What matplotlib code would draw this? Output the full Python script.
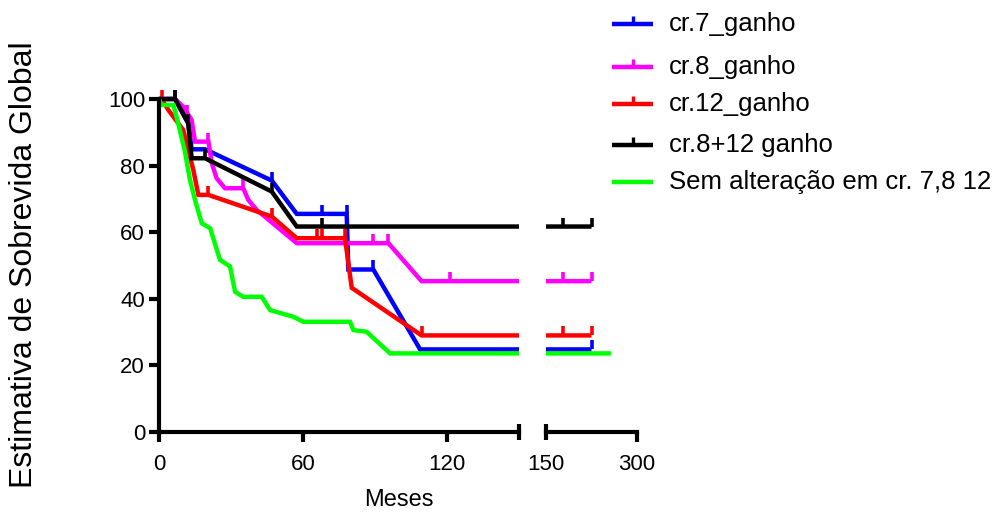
import numpy as np
import matplotlib
matplotlib.use("Agg")
import matplotlib.pyplot as plt
from matplotlib.lines import Line2D
from matplotlib.patches import Rectangle

plt.rcParams['font.family'] = ['Liberation Sans', 'DejaVu Sans']

# Kaplan-Meier estimates (months, % survival) per group
labels = ["cr.7_ganho", "cr.8_ganho", "cr.12_ganho", "cr.8+12 ganho",
          "Sem alteração em cr. 7,8 12"]
colors = ["#0000FF", "#FF00FF", "#FF0000", "#000000", "#00FF00"]

blue_t = [0, 6.7, 12.2, 13.6, 19.2, 47, 57.4, 78.2, 78.9, 89.3, 108.8, 225]
blue_s = [100, 100, 92.7, 84.9, 84.9, 75.5, 65.5, 65.5, 48.8, 48.8, 24.8, 24.8]
blue_ct = [6.7, 47, 67.8, 78.2, 89.3, 225]
blue_cs = [100, 75.5, 65.5, 65.5, 48.8, 24.8]

magenta_t = [0, 6.7, 10, 13.6, 15, 20.6, 22, 24, 27.5, 35.1, 37.2, 40.7,
             57.4, 95.6, 109.4, 225]
magenta_s = [100, 100, 97.7, 93.7, 87.2, 87.2, 80.7, 76.2, 73.2, 73.2, 69.7,
             66.7, 56.7, 56.7, 45.3, 45.3]
magenta_ct = [11.5, 20.6, 35.1, 89.3, 95.6, 121.3, 178.5, 225]
magenta_cs = [95.5, 87.2, 73.2, 56.7, 56.7, 45.3, 45.3, 45.3]

red_t = [0, 1.1, 3.9, 10.1, 14.3, 16.4, 20.6, 47, 57.4, 77.5, 80.3, 109.4, 225]
red_s = [100, 100, 96.7, 90.7, 78.7, 71.2, 71.2, 64.7, 58.2, 58.2, 43.3,
         29.0, 29.0]
red_ct = [1.1, 20.6, 47, 65.7, 67.8, 77.5, 109.4, 178.5, 225]
red_cs = [100, 71.2, 64.7, 58.2, 58.2, 58.2, 29.0, 29.0, 29.0]

black_t = [0, 6.7, 12.2, 13.6, 19.2, 47, 57.4, 225]
black_s = [100, 100, 92.7, 82.2, 82.2, 72.2, 61.7, 61.7]
black_ct = [6.7, 12.2, 19.2, 47, 67.8, 178.5, 225]
black_cs = [100, 92.7, 82.2, 72.2, 61.7, 61.7, 61.7]

green_t = [0, 1, 6, 8, 10.8, 12.9, 15, 17.8, 21.3, 25.4, 29.6, 31.7, 35.1,
           42.8, 46.3, 56, 60.1, 79.6, 81, 86.5, 96.3, 257]
green_s = [100, 98.2, 98.2, 92.7, 84.2, 75.7, 69.7, 62.7, 61.2, 51.7, 49.7,
           42.1, 40.6, 40.6, 36.6, 34.6, 33.1, 33.1, 30.6, 30.1, 23.6, 23.6]
green_ct = []
green_cs = []

series = [
    (blue_t, blue_s, blue_ct, blue_cs),
    (magenta_t, magenta_s, magenta_ct, magenta_cs),
    (red_t, red_s, red_ct, red_cs),
    (black_t, black_s, black_ct, black_cs),
    (green_t, green_s, green_ct, green_cs),
]

y_ticks = [0, 20, 40, 60, 80, 100]

W, H = 1000, 516
fig = plt.figure(figsize=(W / 100, H / 100), dpi=100)

def px_axes(x0, x1, y_top, y_bot):
    return fig.add_axes([x0 / W, 1 - y_bot / H, (x1 - x0) / W, (y_bot - y_top) / H])

ax1 = px_axes(159, 519, 99, 432)
ax2 = px_axes(546, 637, 99, 432)

LW = 3.2
SPINE_LW = 3.0
TICK_FS = 16

for ax, xlim in ((ax1, (0, 150)), (ax2, (150, 300))):
    ax.set_xlim(*xlim)
    ax.set_ylim(0, 100)
    ax.patch.set_visible(False)
    clip = Rectangle((0, -0.05), 1, 1.12, transform=ax.transAxes,
                     facecolor="none", edgecolor="none")
    ax.add_patch(clip)
    for (t, s, ct, cs), c in zip(series, colors):
        ln, = ax.plot(t, s, color=c, lw=LW, solid_joinstyle="miter",
                      solid_capstyle="butt")
        ln.set_clip_path(clip)
        if ct:
            mk, = ax.plot(ct, cs, linestyle="none", marker=2, markersize=6.5,
                          markeredgewidth=2.6, color=c)
            mk.set_clip_path(clip)
    for side in ("top", "right"):
        ax.spines[side].set_visible(False)
    ax.spines["bottom"].set_linewidth(SPINE_LW)
    ax.spines["left"].set_linewidth(SPINE_LW)
    ax.tick_params(which="both", width=SPINE_LW, labelsize=TICK_FS)
    ax.tick_params(which="major", length=7, direction="out", pad=9)
    ax.tick_params(which="minor", length=12, direction="inout", pad=10)

# first segment: 0-150 months
ax1.set_xticks([0, 60, 120])
ax1.set_xticks([150], minor=True)
ax1.set_yticks(y_ticks)
ax1.tick_params(axis="y", pad=3)

# second segment: 150-300 months
ax2.spines["left"].set_visible(False)
ax2.set_yticks([])
ax2.set_xticks([300])
ax2.set_xticks([150], labels=["150"], minor=True)
ax2.tick_params(which="minor", axis="x", labelsize=TICK_FS)

fig.text(399 / W, 1 - 500 / H, "Meses", fontsize=17, ha="center", va="center")
fig.text(24 / W, 1 - 265 / H, "Estimativa de Sobrevida Global", fontsize=23,
         rotation=90, ha="center", va="center")

# legend entries
leg_y = [24, 67, 104, 145, 182]
for lab, c, yy, (_, _, ct, _) in zip(labels, colors, leg_y, series):
    fy = 1 - yy / H
    fig.add_artist(Line2D([612 / W, 653 / W], [fy, fy], color=c, lw=LW,
                          transform=fig.transFigure, solid_capstyle="butt"))
    if ct:
        fig.add_artist(Line2D([632.5 / W], [fy], marker=2, markersize=6,
                              markeredgewidth=2.4, color=c,
                              transform=fig.transFigure))
    fig.text(669 / W, fy, lab, fontsize=18.5, ha="left", va="center")

fig.savefig("out.png", dpi=100, facecolor="white")
